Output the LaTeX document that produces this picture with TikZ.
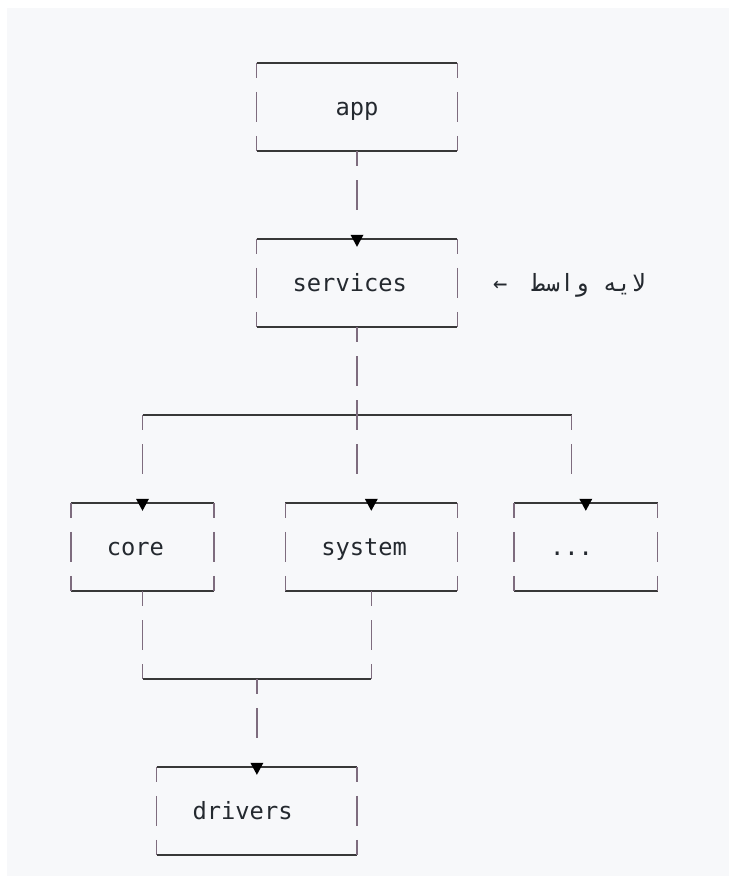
\documentclass[tikz,border=0pt]{standalone}
\usepackage{fontspec}
\usepackage{tikz}

\newfontfamily\codefont{DejaVu Sans Mono}
\newfontfamily\farsifont[Script=Arabic]{DejaVu Sans Mono}
\TeXXeTstate=1

\definecolor{pageBg}{HTML}{F7F8FA}
\definecolor{lineGray}{HTML}{383838}
\definecolor{barGray}{HTML}{7E6C7E}
\definecolor{codeInk}{HTML}{24292F}

\begin{document}
\begin{tikzpicture}[x=1pt, y=-1pt,
        every node/.style={font=\codefont\fontsize{23.75}{28}\selectfont, text=codeInk}]
    \tikzstyle{layerStyle} = [inner ysep=0pt, inner xsep=35.75pt, minimum height=88pt,
        align=left, text height=20pt, text depth=4pt]
    \tikzstyle{flatEdge} = [draw=lineGray, line width=1.5pt]
    \tikzstyle{sideEdge} = [draw=barGray, line width=1.5pt,
        dash pattern=on 30pt off 14pt, dash phase=15pt]
    \tikzstyle{tipStyle} = [fill=black]

    \useasboundingbox (0,0) rectangle (736,884);
    \fill[white] (0,0) rectangle (736,884);
    \fill[pageBg] (7,8) rectangle (729,876);

    % layers
    \node[layerStyle, text width=128.7pt, align=center] (app) at (357,107) {app};
    \node[layerStyle, text width=128.7pt] (services) at (357,283) {services};
    \node[layerStyle, text width=71.5pt] (core) at (142.5,547) {core};
    \node[layerStyle, text width=100.1pt] (system) at (371.3,547) {system};
    \node[layerStyle, text width=71.5pt] (more) at (585.8,547) {...};
    \node[layerStyle, text width=128.7pt] (drivers) at (256.9,811) {drivers};

    \node[anchor=west, inner sep=0pt, text height=20pt, text depth=4pt] (noteArrow) at (492.9,283) {←};
    \node[anchor=east, inner sep=0pt, text height=20pt, text depth=4pt] (note) at (646,283)
        {\farsifont\beginR لایه واسط\endR};

    % split and merge points
    \coordinate (servicesIn) at (357,210);
    \coordinate (split) at (357,415);
    \coordinate (splitL) at (142.5,415);
    \coordinate (splitR) at (571.5,415);
    \coordinate (coreIn) at (142.5,474);
    \coordinate (systemIn) at (357,474);
    \coordinate (moreIn) at (571.5,474);
    \coordinate (mergeL) at (142.5,679);
    \coordinate (mergeR) at (371.3,679);
    \coordinate (merge) at (256.9,679);
    \coordinate (driversIn) at (256.9,738);

    % box outlines
    \foreach \layer in {app,services,core,system,more,drivers} {
        \path[flatEdge] (\layer.north west) -- (\layer.north east);
        \path[flatEdge] (\layer.south west) -- (\layer.south east);
        \path[sideEdge] (\layer.north west) -- (\layer.south west);
        \path[sideEdge] (\layer.north east) -- (\layer.south east);
    }
    \foreach \layer in {services,core,system,more,drivers}
        \fill[tipStyle] ([shift={(-6.5,-4)}]\layer.north) -- ++(13,0) -- ++(-6.5,12) -- cycle;

    % links
    \path[flatEdge] (splitL) -- (splitR);
    \path[flatEdge] (mergeL) -- (mergeR);
    \foreach \from/\to in {app.south/servicesIn, services.south/split, splitL/coreIn,
        split/systemIn, splitR/moreIn, core.south/mergeL, system.south/mergeR, merge/driversIn}
        \path[sideEdge] (\from) -- (\to);
\end{tikzpicture}
\end{document}
